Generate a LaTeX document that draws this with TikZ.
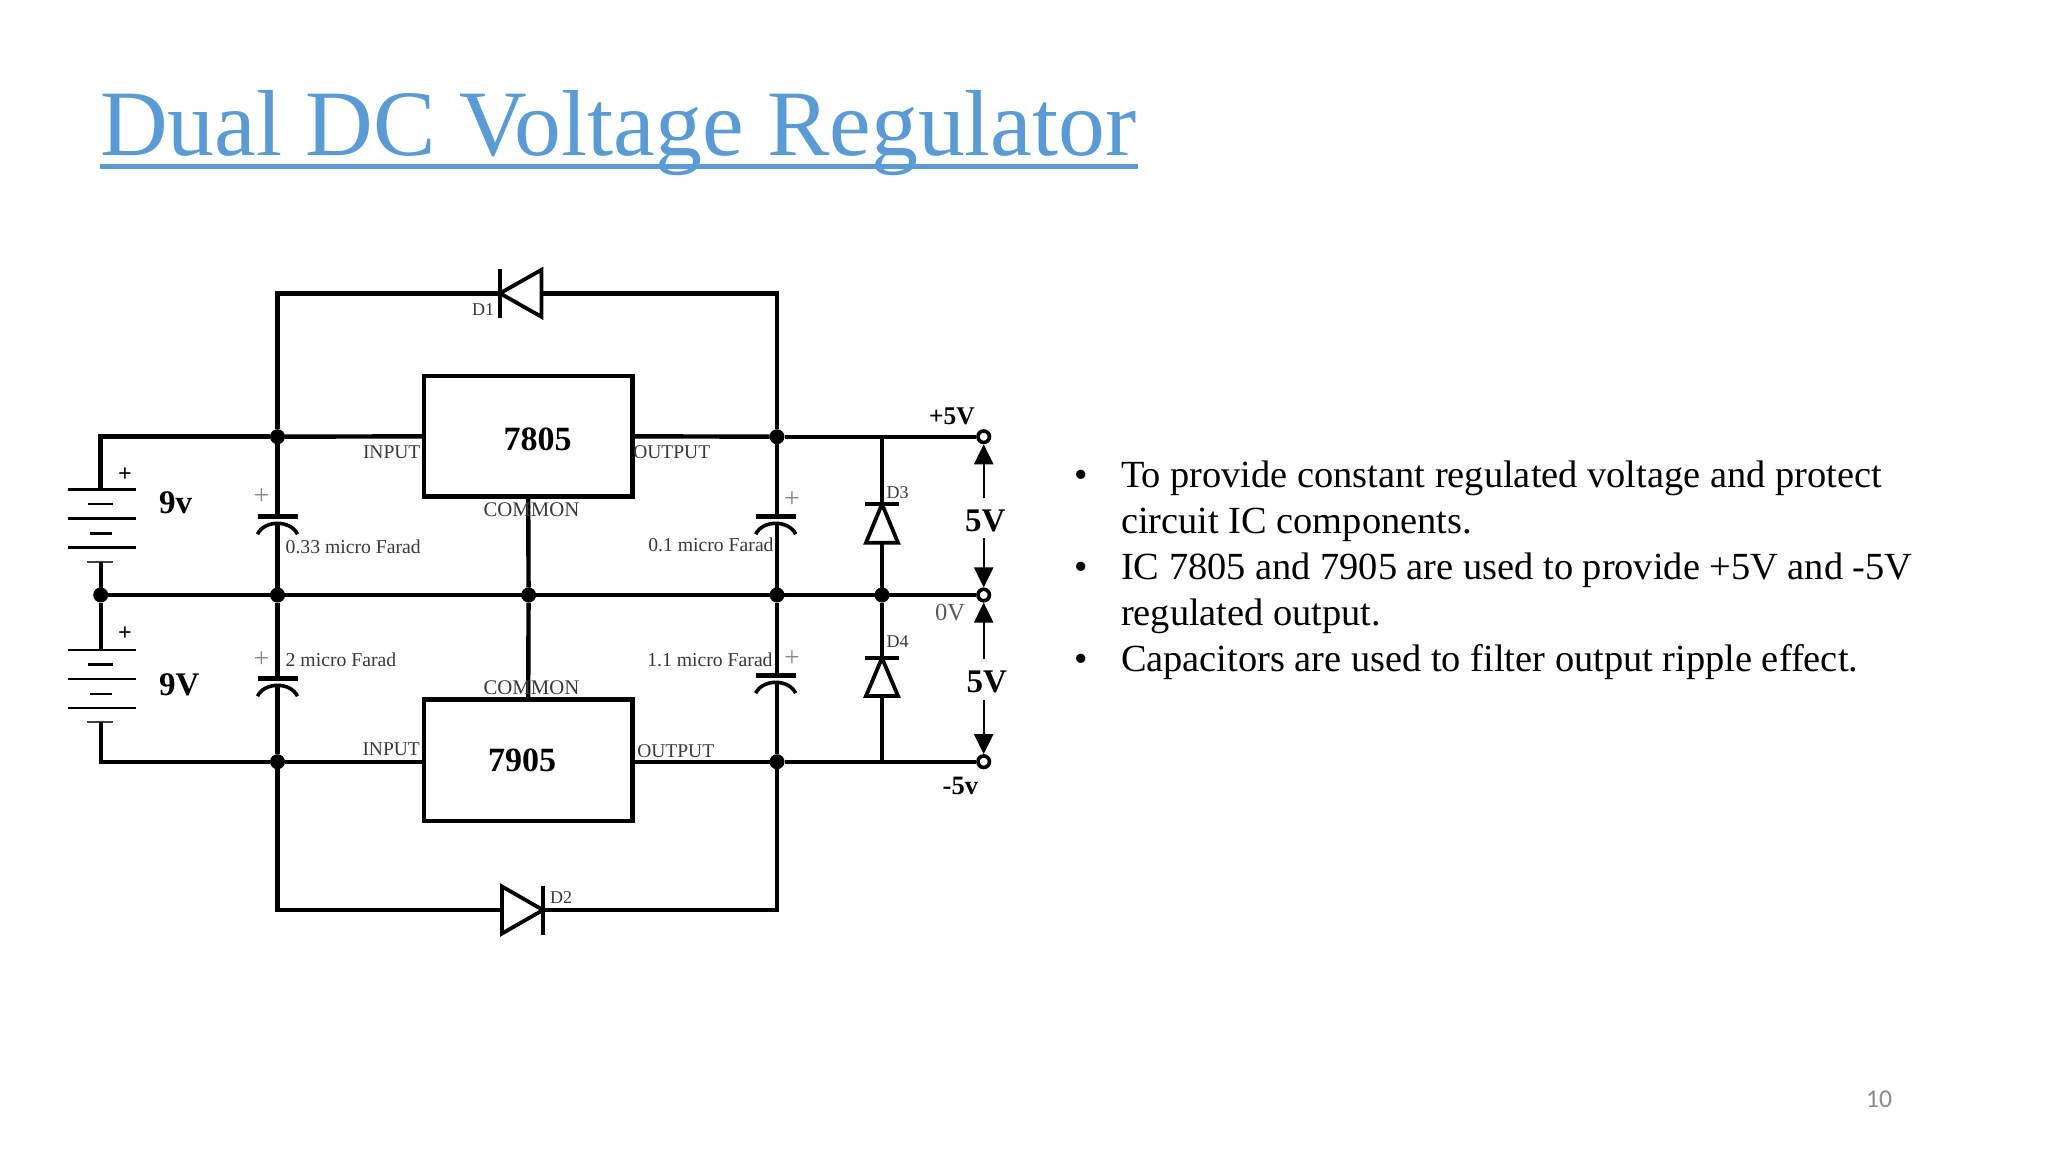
\documentclass[tikz,border=0pt]{standalone}
\usepackage{fontspec}
\setmainfont{Liberation Serif}
\newfontfamily\pgnumfont{Carlito}
\usetikzlibrary{arrows.meta}
\definecolor{titleblue}{HTML}{5B9BD5}
\definecolor{lbl}{HTML}{3A3A3A}
\definecolor{plusgrey}{HTML}{8A8A8A}
\newcommand{\fs}[1]{\fontsize{#1}{#1}\selectfont}
\tikzset{
  x=1pt,y=-1pt,
  wire/.style={line width=4.4pt,black,line cap=butt,line join=miter},
  heavy/.style={line width=5pt,black,line join=miter},
  ic/.style={draw=black,line width=4.4pt,rectangle,minimum width=208.3pt,inner sep=0pt,outer sep=0pt},
  dot/.style={circle,fill=black,draw=none,minimum size=15pt,inner sep=0pt,outer sep=0pt},
  term/.style={circle,fill=white,draw=black,line width=3.6pt,minimum size=11.5pt,inner sep=0pt,outer sep=1.8pt},
  txt/.style={inner sep=0pt,outer sep=0pt,anchor=base west,text=lbl},
  small/.style={txt,font=\fs{19.7}},
  tiny/.style={txt,font=\fs{19.5}},
  commonlbl/.style={txt,font=\fs{20.8}},
  bigb/.style={txt,text=black,font=\fs{33}\bfseries},
  icb/.style={txt,text=black,font=\fs{34}\bfseries},
  volt/.style={line width=2.2pt,black,-{Triangle[length=20pt,width=19pt]}},
  capplus/.style={inner sep=0pt,outer sep=0pt,anchor=base,text=plusgrey,font=\fs{28}},
  batplus/.style={inner sep=0pt,outer sep=0pt,anchor=base,text=black,font=\fs{24}\bfseries},
  body/.style={inner sep=0pt,outer sep=0pt,anchor=base west,text=black,font=\fs{38.4}},
  pics/cap/.style={code={
    \coordinate (-top) at (0,0);
    \coordinate (-bot) at (0,6);
    \draw[line width=4.6pt] (-20,0) -- (20,0);
    \draw[line width=3.6pt] (-20,17.5) .. controls (-13,3) and (13,3) .. (20,17.5);
  }},
  pics/diode/.style 2 args={code={
    \coordinate (-a) at (0,0);
    \coordinate (-k) at (#1,0);
    \draw[line width=3.8pt,line join=miter] (0,-#2) -- (#1,0) -- (0,#2) -- cycle;
    \draw[line width=3.8pt] (#1,-#2-1) -- (#1,#2+1);
  }},
  pics/battery/.style={code={
    \coordinate (-top) at (0,0);
    \coordinate (-bot) at (0,72.4);
    \draw[line width=2.4pt] (-33,0) -- (35.5,0);
    \draw[line width=2.4pt] (-12.5,14.6) -- (12,14.6);
    \draw[line width=2.4pt] (-33,29) -- (35.5,29);
    \draw[line width=2.4pt] (-10.5,44) -- (11.5,44);
    \draw[line width=2.4pt] (-33,58.2) -- (35.5,58.2);
    \draw[line width=2pt,black!75] (-13.5,72.4) -- (12.5,72.4);
  }}
}
\begin{document}
\begin{tikzpicture}
\useasboundingbox (0,0) rectangle (2048,1152);
\fill[white] (0,0) rectangle (2048,1152);

% title
\node[inner sep=0pt,outer sep=0pt,anchor=base west,text=titleblue,font=\fs{93.7}] (title) at (100,155.5) {Dual DC Voltage Regulator};
\coordinate (ulL) at (100,166.3);
\coordinate (ulR) at (1138,166.3);
\draw[titleblue,line width=4.5pt] (ulL) -- (ulR);

% junctions
\node[dot] (j1) at (277.5,436.7) {};
\node[dot] (j2) at (777,436.7) {};
\node[dot] (m0) at (100.7,595) {};
\node[dot] (m1) at (277.5,595) {};
\node[dot] (m2) at (528.6,595) {};
\node[dot] (m3) at (777,595) {};
\node[dot] (m4) at (882,595) {};
\node[dot] (b1) at (277.5,761.7) {};
\node[dot] (b2) at (777,761.7) {};
\node[term] (t1) at (983.7,436.7) {};
\node[term] (t2) at (983.7,595) {};
\node[term] (t3) at (983.7,761.7) {};

% corners
\coordinate (tl) at (100.7,436.7);
\coordinate (bl) at (100.7,761.7);
\coordinate (c1) at (277.5,293.3);
\coordinate (c2) at (777,293.3);
\coordinate (c3) at (277.5,910);
\coordinate (c4) at (777,910);
\coordinate (d3t) at (882,436.7);
\coordinate (d4b) at (882,761.7);

% regulators
\node[ic,minimum height=120.7pt] (ic1) at (528.2,436.3) {};
\node[ic,minimum height=121.4pt] (ic2) at (528.2,760) {};

% components
\pic (bat1) at (100.7,489.3) {battery};
\pic (bat2) at (100.7,649.7) {battery};
\pic (cap1) at (277.5,516.7) {cap};
\pic (cap2) at (277.5,678.7) {cap};
\pic (cap3) at (775.7,516.7) {cap};
\pic (cap4) at (775.7,675.7) {cap};
\pic[rotate=180] (d1) at (541.5,293.3) {diode={41.5}{23.5}};
\pic (d2) at (502,910) {diode={41}{23.5}};
\pic[rotate=90] (d3) at (882,542.7) {diode={38.7}{16}};
\pic[rotate=90] (d4) at (882,696) {diode={38}{16}};

% connectors
\draw[heavy] (bat1-top) -- (tl) -- (j1);
\draw[wire] (j1) -- (ic1.west);
\draw[wire] (j1) -- (c1) -- (d1-k);
\draw[wire] (d1-a) -- (c2) -- (j2);
\draw[wire] (ic1.east) -- (j2);
\draw[wire] (j2) -- (t1);
\draw[wire] (j1) -- (cap1-top);
\draw[wire] (cap1-bot) -- (m1);
\draw[wire] (j2) -- (cap3-top -| j2);
\draw[wire] (cap3-bot -| j2) -- (m3);
\draw[wire] (bat1-bot) -- (m0);
\draw[wire] (m0) -- (bat2-top);
\draw[wire] (m0) -- (t2);
\draw[wire] (ic1.south) -- (m2) -- (ic2.north);
\draw[wire] (m1) -- (cap2-top);
\draw[wire] (cap2-bot) -- (b1);
\draw[wire] (m3) -- (cap4-top -| m3);
\draw[wire] (cap4-bot -| m3) -- (b2);
\draw[wire] (bat2-bot) -- (bl) -- (b1) -- (b1 -| ic2.west);
\draw[wire] (b2 -| ic2.east) -- (b2) -- (t3);
\draw[wire] (b1) -- (c3) -- (d2-a);
\draw[wire] (d2-k) -- (c4) -- (b2);
\draw[wire] (d3t) -- (d3-k);
\draw[wire] (d3-a) -- (m4);
\draw[wire] (m4) -- (d4-k);
\draw[wire] (d4-a) -- (d4b);

% voltage arrows
\coordinate (a1) at (983.7,498);
\coordinate (a2) at (983.7,538);
\coordinate (a3) at (983.7,659);
\coordinate (a4) at (983.7,700);
\draw[volt] (a1) -- (t1);
\draw[volt] (a2) -- (t2);
\draw[volt] (a3) -- (t2);
\draw[volt] (a4) -- (t3);

% labels
\node[bigb] (l9v) at (159,513) {9v};
\node[bigb] (l9V) at (159,695) {9V};
\node[batplus] (pb1) at (125,481) {+};
\node[batplus] (pb2) at (125,640.5) {+};
\node[capplus] (pc1) at (261.4,504.5) {+};
\node[capplus] (pc2) at (261.4,667.5) {+};
\node[capplus] (pc3) at (792,507) {+};
\node[capplus] (pc4) at (792,666) {+};
\node[small] (lc1) at (285.7,553) {0.33 micro Farad};
\node[small] (lc2) at (285.7,666.7) {2 micro Farad};
\node[small] (lc3) at (648.3,551) {0.1 micro Farad};
\node[small] (lc4) at (647.3,666.7) {1.1 micro Farad};
\node[tiny] (li1) at (363,458) {INPUT};
\node[tiny] (li2) at (362.5,755.7) {INPUT};
\node[tiny] (lo1) at (633.3,458) {OUTPUT};
\node[tiny] (lo2) at (637.3,757.7) {OUTPUT};
\node[commonlbl] (lm1) at (483.6,516.7) {COMMON};
\node[commonlbl] (lm2) at (483.6,694) {COMMON};
\node[icb] (n1) at (503.6,450) {7805};
\node[icb] (n2) at (488,771) {7905};
\node[txt,font=\fs{18}] (ld1) at (472,315.7) {D1};
\node[txt,font=\fs{18}] (ld2) at (550,903) {D2};
\node[txt,font=\fs{18}] (ld3) at (886.7,498) {D3};
\node[txt,font=\fs{18}] (ld4) at (886.7,647.7) {D4};
\node[txt,text=black,font=\fs{25.5}\bfseries] (lp5) at (929,424) {+5V};
\node[txt,text=black,font=\fs{26.5}\bfseries] (lm5) at (942.7,794) {-5v};
\node[txt,text=black!65,font=\fs{24.5}] (l0v) at (935,620.7) {0V};
\node[bigb] (l5a) at (965,531.7) {5V};
\node[bigb] (l5b) at (966.7,692.7) {5V};

% bullets
\node[body] (bu1) at (1074,487.7) {•};
\node[body] (bu2) at (1074,579) {•};
\node[body] (bu3) at (1074,671.5) {•};
\node[body] (tx1) at (1121,487.7) {To provide constant regulated voltage and protect};
\node[body] (tx2) at (1121,533.7) {circuit IC components.};
\node[body] (tx3) at (1121,579) {IC 7805 and 7905 are used to provide +5V and -5V};
\node[body] (tx4) at (1121,625.7) {regulated output.};
\node[body] (tx5) at (1121,671.5) {Capacitors are used to filter output ripple effect.};

% page number
\node[inner sep=0pt,outer sep=0pt,anchor=base west,text=black!46,font=\pgnumfont\fs{25.6}] (pg) at (1866,1107) {10};
\end{tikzpicture}
\end{document}
